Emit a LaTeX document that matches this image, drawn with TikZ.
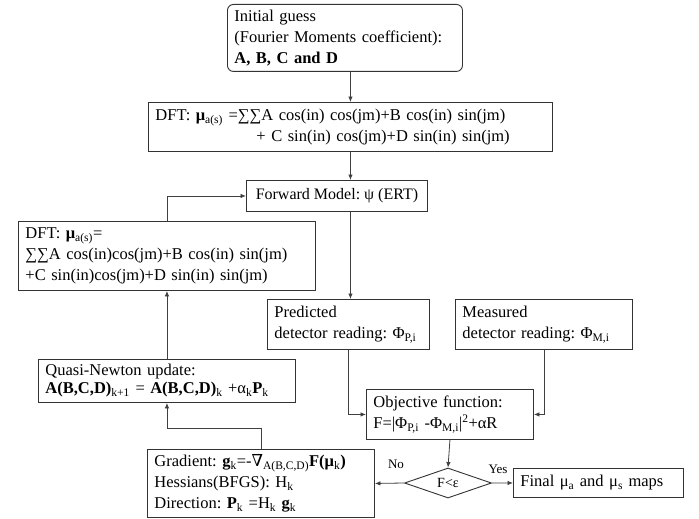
\documentclass[tikz,border=0pt]{standalone}
\usepackage{fontspec}
\setmainfont{Liberation Serif}
\newfontfamily\dvfont{DejaVu Serif}
\usetikzlibrary{arrows.meta,shapes.geometric}
\frenchspacing
\begin{document}
\begin{tikzpicture}[x=1pt,y=-1pt,
  box/.style={draw=black!80,line width=0.9pt,fill=white,align=left,anchor=north west,
    inner xsep=7pt,inner ysep=1pt,font=\fontsize{16.5}{21}\selectfont\frenchspacing},
  arr/.style={draw=black!75,line width=0.8pt,-{Latex[length=5.5pt,width=4.5pt]}},
  lab/.style={font=\fontsize{13}{15}\selectfont,inner sep=0pt}]
\useasboundingbox (0,0) rectangle (699,519);
\fill[white] (0,0) rectangle (699,519);
\node[box,rounded corners=6pt,text width=221pt,minimum height=67pt] (init) at (227,4)
  {Initial guess\\(Fourier Moments coefficient):\\\textbf{A, B, C and D}};
\node[box,text width=390pt,minimum height=49pt] (dft1) at (148,102)
  {DFT: \textbf{μ}\textsubscript{a(s)} =∑∑A cos(in) cos(jm)+B cos(in) sin(jm)\\\hspace*{101pt}+ C sin(in) cos(jm)+D sin(in) sin(jm)};
\node[draw=black!80,line width=0.9pt,fill=white,anchor=north west,inner xsep=3pt,inner ysep=1pt,
  font=\fontsize{16}{21}\selectfont\frenchspacing,minimum width=181pt,minimum height=31pt] (fwd) at (246,180)
  {Forward Model: ψ (ERT)};
\node[box,text width=283pt,minimum height=69pt] (dft2) at (18,221)
  {DFT: \textbf{μ}\textsubscript{a(s)}=\\∑∑A cos(in)cos(jm)+B cos(in) sin(jm)\\+C sin(in)cos(jm)+D sin(in) sin(jm)};
\node[box,text width=148pt,minimum height=50pt] (pred) at (267,299)
  {Predicted\\detector reading: Φ\textsubscript{P,i}};
\node[box,text width=163pt,minimum height=50pt] (meas) at (455,299)
  {Measured\\detector reading: Φ\textsubscript{M,i}};
\node[box,text width=153pt,minimum height=50pt] (obj) at (366,389)
  {Objective function:\\F=|Φ\textsubscript{P,i} -Φ\textsubscript{M,i}|\textsuperscript{2}+αR};
\node[box,font=\fontsize{16.5}{18}\selectfont\frenchspacing,text width=243pt,minimum height=43pt] (quasi) at (38,359)
  {Quasi-Newton update:\\\textbf{A(B,C,D)}\textsubscript{k+1} = \textbf{A(B,C,D)}\textsubscript{k} +α\textsubscript{k}\textbf{P}\textsubscript{k}};
\node[box,text width=213pt,minimum height=68pt] (grad) at (147,449)
  {Gradient: \textbf{g}\textsubscript{k}=-{\dvfont ∇}\textsubscript{A(B,C,D)}\textbf{F(μ}\textsubscript{k}\textbf{)}\\Hessians(BFGS): H\textsubscript{k}\\Direction: \textbf{P}\textsubscript{k} =H\textsubscript{k} \textbf{g}\textsubscript{k}};
\node[draw=black!80,line width=0.9pt,diamond,aspect=2.9,minimum width=87pt,minimum height=30pt,inner sep=0pt,
  font=\fontsize{14}{16}\selectfont] (dec) at (448,483) {F<ε};
\node[box,text width=156pt,minimum height=29pt] (final) at (513,468)
  {Final μ\textsubscript{a} and μ\textsubscript{s} maps};
\node[lab] (no) at (396,464) {No};
\node[lab] (yes) at (498,469) {Yes};
% connectors
\draw[arr] (init.south -| dft1.north) -- (dft1.north);
\draw[arr] (dft1.south) -- (dft1.south |- fwd.north);
\draw[arr] (dft2.north) |- (fwd.west);
\draw[arr] (fwd.south -| dft1.south) -- (pred.north -| dft1.south);
\draw[arr] (quasi.north) -- (dft2.south);
\draw[arr] (grad.north) -- ++(0,-21) -| (quasi.south);
\draw[arr] (pred.south) |- (obj.west);
\draw[arr] (meas.south) |- (obj.east);
\draw[arr] (obj.south) -- (dec.north);
\draw[arr] (dec.east) -- (final.west);
\draw[arr] (dec.west) -- (grad.east);
\end{tikzpicture}
\end{document}
